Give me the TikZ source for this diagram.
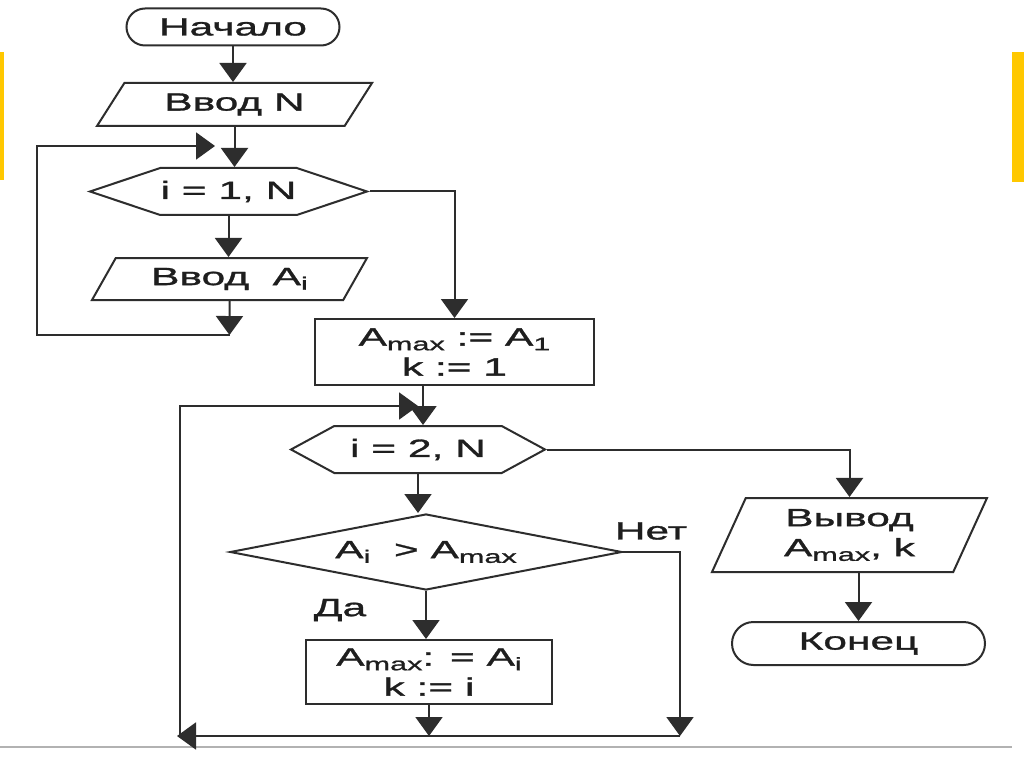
\documentclass[tikz,border=0pt]{standalone}
\usepackage{fontspec}
\setmainfont{Liberation Sans}[FakeStretch=1.7,FakeBold=1.2]
\usetikzlibrary{shapes.geometric,shapes.misc,shapes.symbols,arrows.meta}
\definecolor{lc}{RGB}{45,45,45}
\definecolor{tc}{RGB}{30,30,30}
\definecolor{bar}{RGB}{255,200,0}
\newcommand\lo[1]{\raisebox{-0.35ex}{\fontsize{18}{18}\selectfont #1}}
\tikzset{
  ln/.style={draw=lc, line width=2pt},
  arr/.style={ln, -{Triangle[width=27pt,length=19pt]}},
  txt/.style={font=\fontsize{25}{30}\selectfont, text=tc, align=center},
  term/.style={rounded rectangle, draw=lc, line width=2pt, inner sep=0pt, txt},
  io/.style={trapezium, trapezium stretches body, draw=lc, line width=2pt, inner sep=0pt, txt},
  proc/.style={rectangle, draw=lc, line width=2pt, inner sep=0pt, txt},
  loopsh/.style={signal, signal to=west and east, draw=lc, line width=2pt, inner sep=0pt, txt},
  dec/.style={diamond, draw=lc, line width=2pt, inner sep=0pt, txt}
}
\begin{document}
\begin{tikzpicture}[x=1pt,y=-1pt]
\useasboundingbox (0,0) rectangle (1024,767);
\fill[white] (0,0) rectangle (1024,767);
\fill[bar] (0,52) rectangle (4,180);
\fill[bar] (1012,52) rectangle (1024,182);
\draw[gray!60, line width=1.5pt] (0,747) -- (1012,747);

% nodes
\node[term, minimum width=213pt, minimum height=37pt] (start) at (233,27) {Начало};
\node[io, trapezium left angle=39, trapezium right angle=141, minimum width=275pt, minimum height=43pt] (inN) at (234.5,104.5) {Ввод N};
\node[loopsh, signal pointer angle=37, minimum width=277pt, minimum height=47pt] (hex1) at (228.5,191.5) {i = 1, N};
\node[io, trapezium left angle=43, trapezium right angle=137, minimum width=275pt, minimum height=42pt] (ai) at (229.5,279) {Ввод\ \ A\lo{i}};
\node[proc, minimum width=279pt, minimum height=66pt] (box1) at (454.5,352) {A\lo{max} := A\lo{1}\\k := 1};
\node[loopsh, signal pointer angle=57, minimum width=254pt, minimum height=47pt] (hex2) at (418,449.5) {i = 2, N};
\node[dec, aspect=5.16, minimum width=392pt, minimum height=76pt] (dec) at (426,552) {A\lo{i}\ \ > A\lo{max}};
\node[proc, minimum width=246pt, minimum height=64pt] (box2) at (429,672) {A\lo{max}: = A\lo{i}\\k := i};
\node[io, trapezium left angle=57, trapezium right angle=123, minimum width=275pt, minimum height=74pt] (out) at (849.5,535) {Вывод\\A\lo{max}, k};
\node[term, minimum width=253pt, minimum height=43pt] (fin) at (858.5,643.5) {Конец};
\node[txt] (no) at (651,531) {Нет};
\node[txt] (yes) at (340,610) {Да};

% coordinates
\coordinate (j2) at (229.5,335);
\coordinate (cL1) at (37,146);
\coordinate (cT1) at (215,146);
\coordinate (v2) at (423,0);
\coordinate (j3) at (429,736);
\coordinate (c5) at (680,736);
\coordinate (cL2) at (177,736);
\coordinate (cB2) at (180,736);
\coordinate (cT2) at (418,406);

% connectors
\draw[arr] (start.south) -- (start.south |- inN.north);
\draw[arr] (inN.south) -- (inN.south |- hex1.north);
\draw[arr] (hex1.south) -- (hex1.south |- ai.north);
\draw[arr] (ai.south) -- (j2);
\draw[arr] (j2) -| (cL1) -- (cT1);
\draw[arr] (hex1.east) -| (box1.north);
\draw[arr] (box1.south -| v2) -- (hex2.north -| v2);
\draw[arr] (hex2.south) -- (hex2.south |- dec.north);
\draw[arr] (hex2.east) -| (out.north);
\draw[arr] (dec.south) -- (dec.south |- box2.north);
\draw[arr] (dec.east) -| (c5);
\draw[arr] (box2.south) -- (j3);
\draw[arr] (c5) -- (cL2);
\draw[arr] (cB2) |- (cT2);
\draw[arr] (fin.north |- out.south) -- (fin.north);
\end{tikzpicture}
\end{document}
